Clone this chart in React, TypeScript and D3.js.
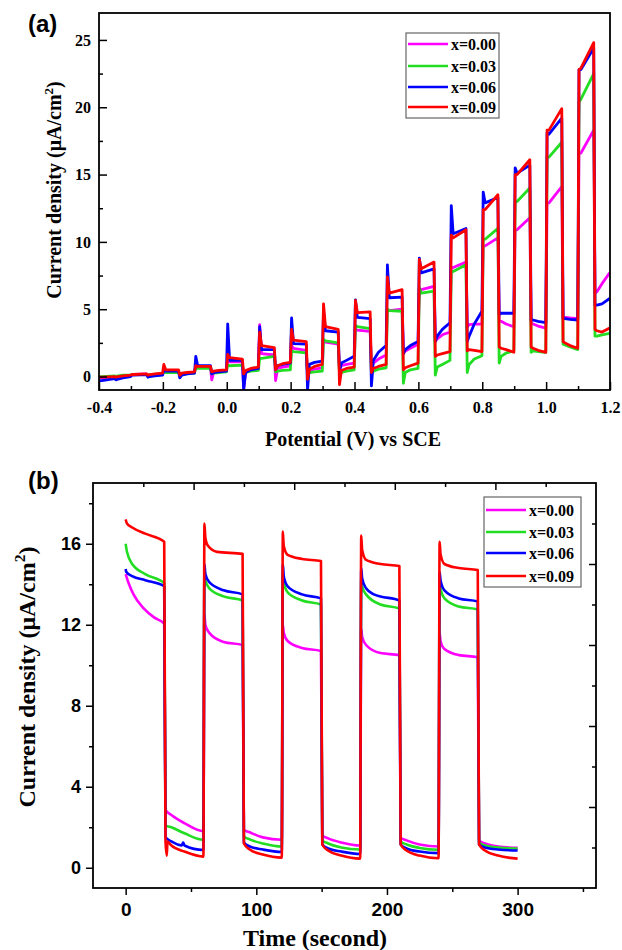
import React, { useEffect, useRef } from 'react';
import * as d3 from 'd3';

const SERIES = ['x=0.00', 'x=0.03', 'x=0.06', 'x=0.09'];
const COLORS = ['#ff00ff', '#22dd22', '#0000ff', '#ff0000'];

const serif = "'Liberation Serif', 'Times New Roman', serif";
const sans = "'Liberation Sans', Arial, sans-serif";

// ---- (a) chopped linear sweep ----
// light switched on at each potential for 0.05 V, then off for 0.05 V
const lsvPulseStart = [-0.4, -0.3, -0.2, -0.1, 0.0, 0.1, 0.2, 0.3, 0.4, 0.5, 0.6, 0.7, 0.8, 0.9, 1.0, 1.1];
const lsvXTicks = [-0.4, -0.2, 0.0, 0.2, 0.4, 0.6, 0.8, 1.0, 1.2];
const lsvXMinor = [-0.3, -0.1, 0.1, 0.3, 0.5, 0.7, 0.9, 1.1];
const lsvYTicks = [0, 5, 10, 15, 20, 25];
const lsvYMinor = [2.5, 7.5, 12.5, 17.5, 22.5];

// value at -0.4 V
const lsvStart = [-0.1, 0.0, -0.35, -0.1];
// one row per pulse: [onset spike, lit level, lit level at switch-off, dip after switch-off, dark level, dark mid, dark level before next pulse]
const lsvX000 = [
  [-0.1, -0.1, 0.0, -0.05, 0.0, 0.05, 0.1],
  [0.15, 0.15, 0.2, 0.05, 0.1, 0.15, 0.2],
  [0.45, 0.4, 0.4, 0.1, 0.2, 0.25, 0.3],
  [0.75, 0.7, 0.7, -0.25, 0.3, 0.35, 0.4],
  [1.2, 1.1, 1.1, -0.9, 0.3, 0.45, 0.55],
  [3.85, 1.7, 1.6, -0.3, 0.6, 0.7, 0.8],
  [2.3, 2.1, 1.95, 0.3, 0.45, 0.55, 0.65],
  [2.7, 2.55, 2.4, 0.5, 0.8, 0.9, 1.0],
  [3.5, 3.45, 3.35, 0.8, 1.0, 1.3, 1.6],
  [5.0, 4.9, 5.0, 1.7, 1.9, 2.1, 2.4],
  [6.5, 6.45, 6.7, 2.6, 2.8, 3.1, 3.3],
  [8.1, 8.1, 8.5, 3.7, 3.85, 3.9, 3.9],
  [9.7, 9.7, 10.3, 4.2, 4.1, 3.9, 3.7],
  [10.9, 10.9, 11.8, 4.0, 3.9, 3.75, 3.6],
  [12.9, 12.9, 14.1, 4.4, 4.4, 4.35, 4.3],
  [16.6, 16.6, 18.3, 6.2, 6.3, 6.9, 7.7],
];
const lsvX003 = [
  [0.0, 0.0, 0.05, 0.0, 0.05, 0.1, 0.1],
  [0.15, 0.15, 0.15, 0.1, 0.1, 0.15, 0.2],
  [0.35, 0.3, 0.3, 0.1, 0.15, 0.2, 0.25],
  [0.65, 0.6, 0.6, 0.2, 0.25, 0.3, 0.35],
  [0.85, 0.8, 0.85, 0.2, 0.3, 0.4, 0.45],
  [1.35, 1.35, 1.5, 0.35, 0.4, 0.45, 0.5],
  [1.9, 1.85, 1.75, 0.2, 0.3, 0.35, 0.4],
  [2.75, 2.65, 2.5, 0.2, 0.3, 0.4, 0.5],
  [3.8, 3.7, 3.55, 0.2, 0.4, 0.55, 0.65],
  [5.0, 4.9, 4.85, -0.5, 0.3, 0.5, 0.6],
  [6.6, 6.2, 6.35, 0.1, 0.7, 0.9, 1.2],
  [7.8, 7.8, 8.3, 0.3, 0.9, 1.3, 1.55],
  [10.2, 10.2, 11.0, 1.0, 1.5, 1.75, 1.9],
  [13.0, 13.0, 14.0, 1.8, 1.9, 1.85, 1.8],
  [16.3, 16.3, 17.4, 2.4, 2.35, 2.2, 2.0],
  [20.4, 20.6, 22.5, 3.0, 3.0, 3.1, 3.2],
];
const lsvX006 = [
  [-0.3, -0.3, -0.15, -0.25, -0.2, -0.1, 0.0],
  [0.1, 0.1, 0.15, -0.05, 0.0, 0.05, 0.1],
  [0.5, 0.4, 0.4, -0.1, 0.1, 0.2, 0.25],
  [1.5, 0.8, 0.8, 0.2, 0.3, 0.35, 0.4],
  [3.9, 1.2, 1.2, -1.0, 0.3, 0.5, 0.6],
  [3.7, 2.0, 2.0, 0.5, 0.8, 0.9, 1.0],
  [4.35, 2.45, 2.4, -1.0, 0.9, 1.05, 1.15],
  [4.85, 3.4, 3.3, 0.4, 1.0, 1.2, 1.5],
  [5.7, 4.4, 4.3, -0.7, 1.2, 1.8, 2.3],
  [8.3, 5.85, 5.9, 1.7, 2.0, 2.3, 2.6],
  [8.8, 7.7, 8.0, 2.6, 3.0, 3.5, 4.0],
  [12.7, 10.6, 11.0, 2.6, 3.0, 3.9, 4.85],
  [13.7, 12.9, 13.3, 4.6, 4.7, 4.7, 4.7],
  [15.5, 15.1, 15.7, 4.2, 4.2, 4.1, 4.0],
  [18.1, 18.0, 19.2, 4.3, 4.3, 4.25, 4.2],
  [22.8, 22.8, 24.4, 5.3, 5.3, 5.4, 5.8],
];
const lsvX009 = [
  [-0.05, -0.05, 0.0, -0.05, 0.0, 0.05, 0.1],
  [0.15, 0.15, 0.2, 0.1, 0.15, 0.2, 0.25],
  [0.9, 0.5, 0.5, 0.1, 0.25, 0.3, 0.35],
  [0.8, 0.75, 0.75, 0.35, 0.4, 0.45, 0.5],
  [1.65, 1.4, 1.3, 0.2, 0.45, 0.6, 0.7],
  [3.3, 2.3, 2.15, 0.5, 0.8, 0.95, 1.05],
  [3.5, 2.7, 2.6, -0.2, 0.55, 0.75, 0.9],
  [5.4, 3.7, 3.5, -0.6, 0.45, 0.6, 0.7],
  [5.65, 4.75, 4.8, 0.3, 0.6, 0.75, 0.9],
  [7.4, 6.2, 6.45, 0.5, 0.65, 0.8, 1.0],
  [8.7, 8.0, 8.5, 1.5, 1.6, 1.7, 1.85],
  [10.5, 10.3, 10.9, 1.9, 2.0, 1.95, 1.85],
  [12.4, 12.4, 13.5, 2.2, 2.1, 2.0, 1.8],
  [15.0, 15.0, 16.1, 2.2, 2.1, 1.95, 1.8],
  [18.3, 18.3, 19.9, 2.6, 2.5, 2.3, 2.1],
  [22.8, 22.9, 24.8, 3.5, 3.4, 3.3, 3.6],
];

// ---- (b) transient photocurrent, [time s, current] ----
const itXTicks = [0, 100, 200, 300];
const itXMinor = [50, 150, 250, 350];
const itYTicks = [0, 4, 8, 12, 16];
const itYMinor = [2, 6, 10, 14, 18];
const itFrameMajor = [2, 4, 6, 8];
const itFrameMinor = [1, 3, 5, 7, 9];

const itX000 = [
  [0, 14.5], [2, 14.1], [6, 13.5], [14, 12.8], [22, 12.35], [29.5, 12.05],
  [30.5, 2.86], [35, 2.6], [45, 2.2], [59.5, 1.8],
  [60.3, 12.5], [61, 12.0], [64, 11.6], [75, 11.15], [89.5, 11.0],
  [90.5, 1.88], [95, 1.75], [105, 1.5], [119.5, 1.38],
  [120.3, 12.0], [121, 11.6], [124, 11.2], [135, 10.85], [149.5, 10.7],
  [150.5, 1.6], [155, 1.45], [165, 1.25], [179.5, 1.1],
  [180.3, 11.8], [181, 11.4], [184, 11.0], [195, 10.6], [209.5, 10.5],
  [210.5, 1.48], [215, 1.35], [225, 1.15], [239.5, 1.05],
  [240.3, 11.6], [241, 11.2], [244, 10.8], [255, 10.5], [269.5, 10.4],
  [270.5, 1.35], [275, 1.2], [285, 1.05], [300, 0.98],
];
const itX003 = [
  [0, 16.0], [1, 15.6], [5, 15.0], [15, 14.5], [29.5, 14.05],
  [30.5, 2.1], [35, 2.0], [45, 1.7], [59.5, 1.38],
  [60.3, 14.8], [61, 14.2], [64, 13.8], [75, 13.4], [89.5, 13.2],
  [90.5, 1.55], [95, 1.4], [105, 1.2], [119.5, 1.05],
  [120.3, 14.6], [121, 14.1], [124, 13.6], [135, 13.2], [149.5, 13.0],
  [150.5, 1.35], [155, 1.2], [165, 1.0], [179.5, 0.9],
  [180.3, 14.3], [181, 13.9], [184, 13.5], [195, 13.0], [209.5, 12.8],
  [210.5, 1.3], [215, 1.15], [225, 0.98], [239.5, 0.89],
  [240.3, 14.2], [241, 13.8], [244, 13.3], [255, 12.9], [269.5, 12.75],
  [270.5, 1.25], [275, 1.1], [285, 1.0], [300, 0.95],
];
const itX006 = [
  [0, 14.75], [0.5, 14.6], [5, 14.4], [15, 14.2], [29.5, 13.9],
  [30.5, 1.5], [35, 1.3], [43, 1.1], [44, 1.25], [45, 1.1], [59.5, 0.88],
  [60.3, 15.0], [61, 14.5], [64, 14.1], [75, 13.7], [89.5, 13.5],
  [90.5, 1.25], [95, 1.05], [105, 0.9], [119.5, 0.78],
  [120.3, 15.0], [121, 14.4], [124, 13.9], [135, 13.5], [149.5, 13.3],
  [150.5, 1.15], [155, 0.95], [165, 0.8], [179.5, 0.68],
  [180.3, 14.8], [181, 14.3], [184, 13.8], [190, 13.5], [195, 13.4], [209.5, 13.2],
  [210.5, 1.15], [215, 0.95], [225, 0.8], [239.5, 0.72],
  [240.3, 14.6], [241, 14.2], [244, 13.7], [255, 13.3], [269.5, 13.15],
  [270.5, 1.15], [275, 1.0], [285, 0.9], [300, 0.85],
];
const itX009 = [
  [0, 17.2], [1, 17.0], [5, 16.8], [15, 16.5], [29.5, 16.1],
  [30.5, 1.3], [31.5, 0.6], [32, 1.3], [35, 1.1], [45, 0.8], [59.5, 0.55],
  [60.3, 17.0], [61, 16.3], [63, 15.9], [70, 15.6], [89.5, 15.5],
  [90.5, 1.2], [95, 0.9], [105, 0.65], [119.5, 0.5],
  [120.3, 16.6], [121, 15.9], [124, 15.45], [135, 15.25], [149.5, 15.15],
  [150.5, 1.15], [155, 0.85], [165, 0.6], [179.5, 0.45],
  [180.3, 16.4], [181, 15.7], [184, 15.2], [195, 15.0], [209.5, 14.9],
  [210.5, 1.15], [215, 0.85], [225, 0.6], [239.5, 0.47],
  [240.3, 16.1], [241, 15.5], [244, 15.0], [255, 14.8], [269.5, 14.7],
  [270.5, 1.15], [275, 0.85], [285, 0.6], [300, 0.45],
];

const lsvRows = [lsvX000, lsvX003, lsvX006, lsvX009];
const itRows = [itX000, itX003, itX006, itX009];

function lsvPoints(start: number, rows: number[][]) {
  const pts: [number, number][] = [[-0.4, start]];
  rows.forEach(([spike, onA, onB, dip, offA, offMid, offB], i) => {
    const v = lsvPulseStart[i];
    pts.push([v + 0.003, spike], [v + 0.009, onA], [v + 0.049, onB],
      [v + 0.053, dip], [v + 0.059, offA], [v + 0.075, offMid], [v + 0.099, offB]);
  });
  return pts;
}

function styleAxis(g: any, family: string, size: number) {
  g.select('.domain').remove();
  g.attr('font-family', family).attr('font-size', size).attr('font-weight', 'bold');
  g.selectAll('line').attr('stroke-width', 1.5);
  g.selectAll('text').attr('fill', '#000');
}

function yTitle(g: any, x: number, y: number, size: number) {
  const t = g.append('text')
    .attr('transform', `translate(${x},${y}) rotate(-90)`)
    .attr('text-anchor', 'middle')
    .attr('font-family', serif).attr('font-weight', 'bold').attr('font-size', size);
  t.append('tspan').text('Current density (μA/cm');
  t.append('tspan').attr('dy', -size * 0.4).attr('font-size', size * 0.65).text('2');
  t.append('tspan').attr('dy', size * 0.4).text(')');
}

function legend(g: any, x: number, y: number, w: number, h: number, rowsY: number[]) {
  g.append('rect').attr('x', x).attr('y', y).attr('width', w).attr('height', h)
    .attr('fill', '#fff').attr('stroke', '#666').attr('stroke-width', 1.2);
  SERIES.forEach((name, i) => {
    g.append('line').attr('x1', x + 2).attr('x2', x + 42).attr('y1', rowsY[i]).attr('y2', rowsY[i])
      .attr('stroke', COLORS[i]).attr('stroke-width', 2.6);
    g.append('text').attr('x', x + 45).attr('y', rowsY[i]).attr('dy', '0.35em')
      .attr('font-family', serif).attr('font-weight', 'bold').attr('font-size', 16).text(name);
  });
}

function drawLsv(g: any) {
  const left = 99, right = 610, top = 13, bottom = 390;
  const x = d3.scaleLinear().domain([-0.4, 1.2]).range([left, right]);
  const y = d3.scaleLinear().domain([-1, 27]).range([bottom, top]);

  g.append('clipPath').attr('id', 'clipA').append('rect')
    .attr('x', left).attr('y', top).attr('width', right - left).attr('height', bottom - top);

  const line = d3.line<[number, number]>().x(d => x(d[0])).y(d => y(d[1]));
  const lines = g.append('g').attr('clip-path', 'url(#clipA)');
  lsvRows.forEach((rows, i) => {
    lines.append('path').attr('d', line(lsvPoints(lsvStart[i], rows)))
      .attr('fill', 'none').attr('stroke', COLORS[i]).attr('stroke-width', 2.8)
      .attr('stroke-linejoin', 'round');
  });

  g.append('g').attr('transform', `translate(${left},0)`)
    .call(d3.axisLeft(y).tickValues(lsvYMinor).tickSize(-4).tickFormat(() => ''))
    .call((a: any) => styleAxis(a, serif, 16));
  g.append('g').attr('transform', `translate(${left},0)`)
    .call(d3.axisLeft(y).tickValues(lsvYTicks).tickSize(-8).tickPadding(8).tickFormat((d: any) => String(d)))
    .call((a: any) => styleAxis(a, serif, 16));
  g.append('g').attr('transform', `translate(0,${bottom})`)
    .call(d3.axisBottom(x).tickValues(lsvXMinor).tickSize(-4).tickFormat(() => ''))
    .call((a: any) => styleAxis(a, serif, 16));
  g.append('g').attr('transform', `translate(0,${bottom})`)
    .call(d3.axisBottom(x).tickValues(lsvXTicks).tickSize(-8).tickPadding(12).tickFormat((d: any) => (+d).toFixed(1)))
    .call((a: any) => styleAxis(a, serif, 16));

  g.append('rect').attr('x', left).attr('y', top).attr('width', right - left).attr('height', bottom - top)
    .attr('fill', 'none').attr('stroke', '#000').attr('stroke-width', 1.8);

  g.append('text').attr('x', 353).attr('y', 446).attr('text-anchor', 'middle')
    .attr('font-family', serif).attr('font-weight', 'bold').attr('font-size', 20)
    .text('Potential (V) vs SCE');
  yTitle(g, 61, 190, 20);
  g.append('text').attr('x', 28).attr('y', 32)
    .attr('font-family', sans).attr('font-weight', 'bold').attr('font-size', 24).text('(a)');

  legend(g, 406, 33, 93, 85, [44, 66, 87, 107]);
}

function drawIt(g: any) {
  const left = 93, right = 596, top = 483, bottom = 888;
  const x = d3.scaleLinear().domain([-25, 360]).range([left, right]);
  const y = d3.scaleLinear().domain([-1, 19]).range([bottom, top]);
  const xTop = d3.scaleLinear().domain([0, 10]).range([left, right]);
  const yRight = d3.scaleLinear().domain([0, 10]).range([bottom, top]);

  g.append('clipPath').attr('id', 'clipB').append('rect')
    .attr('x', left).attr('y', top).attr('width', right - left).attr('height', bottom - top);

  const line = d3.line<number[]>().x(d => x(d[0])).y(d => y(d[1])).curve(d3.curveMonotoneX);
  const lines = g.append('g').attr('clip-path', 'url(#clipB)');
  itRows.forEach((pts, i) => {
    lines.append('path').attr('d', line(pts))
      .attr('fill', 'none').attr('stroke', COLORS[i]).attr('stroke-width', 2.6)
      .attr('stroke-linejoin', 'round');
  });

  g.append('g').attr('transform', `translate(${left},0)`)
    .call(d3.axisLeft(y).tickValues(itYMinor).tickSize(4).tickFormat(() => ''))
    .call((a: any) => styleAxis(a, sans, 18));
  g.append('g').attr('transform', `translate(${left},0)`)
    .call(d3.axisLeft(y).tickValues(itYTicks).tickSize(7).tickPadding(5).tickFormat((d: any) => String(d)))
    .call((a: any) => styleAxis(a, sans, 18));
  g.append('g').attr('transform', `translate(0,${bottom})`)
    .call(d3.axisBottom(x).tickValues(itXMinor).tickSize(4).tickFormat(() => ''))
    .call((a: any) => styleAxis(a, sans, 19));
  g.append('g').attr('transform', `translate(0,${bottom})`)
    .call(d3.axisBottom(x).tickValues(itXTicks).tickSize(7).tickPadding(8).tickFormat((d: any) => String(d)))
    .call((a: any) => styleAxis(a, sans, 19));

  // frame ticks on the top and right edges
  g.append('g').attr('transform', `translate(0,${top})`)
    .call(d3.axisTop(xTop).tickValues(itFrameMinor).tickSize(-4).tickFormat(() => ''))
    .call((a: any) => styleAxis(a, sans, 10));
  g.append('g').attr('transform', `translate(0,${top})`)
    .call(d3.axisTop(xTop).tickValues(itFrameMajor).tickSize(-7).tickFormat(() => ''))
    .call((a: any) => styleAxis(a, sans, 10));
  g.append('g').attr('transform', `translate(${right},0)`)
    .call(d3.axisRight(yRight).tickValues(itFrameMinor).tickSize(-4).tickFormat(() => ''))
    .call((a: any) => styleAxis(a, sans, 10));
  g.append('g').attr('transform', `translate(${right},0)`)
    .call(d3.axisRight(yRight).tickValues(itFrameMajor).tickSize(-7).tickFormat(() => ''))
    .call((a: any) => styleAxis(a, sans, 10));

  g.append('rect').attr('x', left).attr('y', top).attr('width', right - left).attr('height', bottom - top)
    .attr('fill', 'none').attr('stroke', '#000').attr('stroke-width', 1.8);

  g.append('text').attr('x', 315).attr('y', 946).attr('text-anchor', 'middle')
    .attr('font-family', serif).attr('font-weight', 'bold').attr('font-size', 24)
    .text('Time (second)');
  yTitle(g, 35, 677, 24);
  g.append('text').attr('x', 28).attr('y', 489)
    .attr('font-family', sans).attr('font-weight', 'bold').attr('font-size', 24).text('(b)');

  legend(g, 484, 497, 97, 90, [510, 532, 553, 576]);
}

export default function App() {
  const ref = useRef<SVGSVGElement>(null);

  useEffect(() => {
    const svg = d3.select(ref.current);
    svg.selectAll('*').remove();
    drawLsv(svg.append('g'));
    drawIt(svg.append('g'));
  }, []);

  return (
    <svg ref={ref} width={622} height={950}
      style={{ position: 'absolute', left: 0, top: 0, background: '#fff' }} />
  );
}
